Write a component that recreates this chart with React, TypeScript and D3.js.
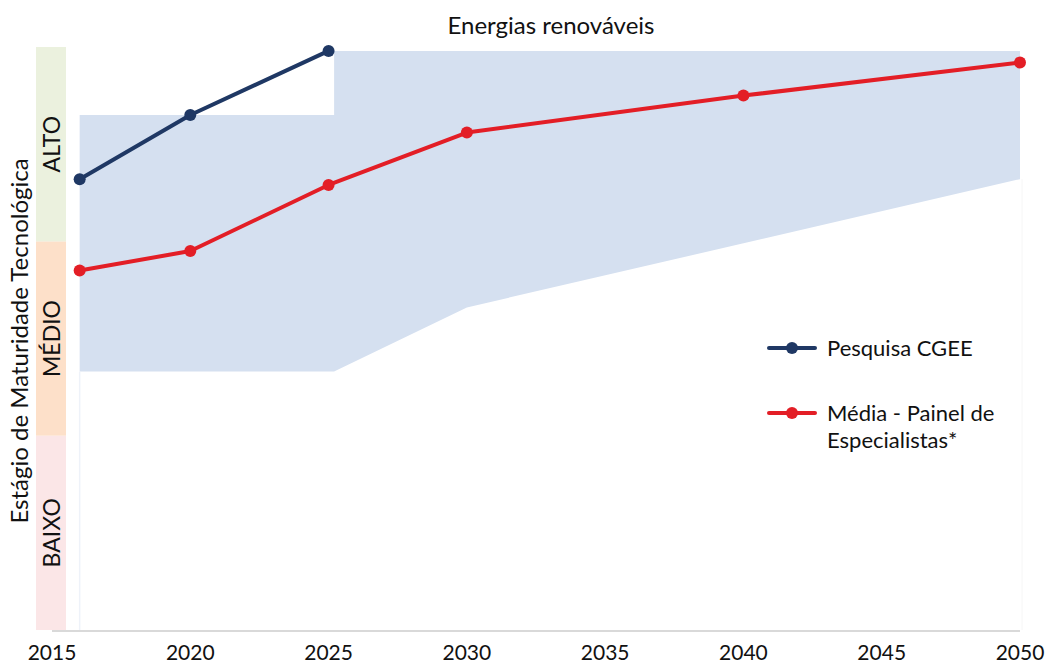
import React from 'react';
import * as d3 from 'd3';

// anos do eixo X
const years = [2015, 2020, 2025, 2030, 2035, 2040, 2045, 2050];

// níveis de maturidade (0 a 3)
const levels = ['BAIXO', 'MÉDIO', 'ALTO'];
const levelColors = ['#fbe6e7', '#fde0c9', '#ebf1de'];

// Pesquisa CGEE
const cgeeYears = [2016, 2020, 2025];
const cgeeValues = [2.32, 2.65, 2.98];

// Média - Painel de Especialistas
const panelYears = [2016, 2020, 2025, 2030, 2040, 2050];
const panelValues = [1.85, 1.95, 2.29, 2.56, 2.75, 2.92];

// faixa do painel (mín / máx)
const bandYears = [2016, 2025.2, 2025.2, 2030, 2050];
const bandMax = [2.65, 2.65, 2.98, 2.98, 2.98];
const bandMin = [1.33, 1.33, 1.33, 1.66, 2.32];

const font = 'Lato, "Open Sans", sans-serif';

const App = () => {
  const width = 1048;
  const height = 664;

  const x = d3.scaleLinear().domain([2015, 2050]).range([52, 1020]);
  const y = d3.scaleLinear().domain([0, 3]).range([630, 47]);

  const area = d3
    .area<number>()
    .x((_, i) => x(bandYears[i]))
    .y0((_, i) => y(bandMin[i]))
    .y1((_, i) => y(bandMax[i]));

  const line = d3
    .line<[number, number]>()
    .x(d => x(d[0]))
    .y(d => y(d[1]));

  const cgee = cgeeYears.map((yr, i) => [yr, cgeeValues[i]] as [number, number]);
  const panel = panelYears.map((yr, i) => [yr, panelValues[i]] as [number, number]);

  const series = [
    { name: ['Pesquisa CGEE'], data: cgee, color: '#1f3864', ly: 348 },
    { name: ['Média - Painel de', 'Especialistas*'], data: panel, color: '#e31e26', ly: 413 },
  ];

  return (
    <svg width={width} height={height} style={{ position: 'absolute', left: 0, top: 0 }}>
      <rect width={width} height={height} fill="#fff" />

      {/* faixa */}
      <path d={area(bandYears) ?? ''} fill="#d5e0f0" />

      {/* linhas finas do plot */}
      <line x1={x(2016)} x2={x(2016)} y1={y(bandMin[0])} y2={y(0)} stroke="#eef2f9" strokeWidth={1.5} />
      <line x1={x(2050) + 2} x2={x(2050) + 2} y1={y(bandMin[4])} y2={y(0)} stroke="#f6f6f6" strokeWidth={1} />

      {/* níveis */}
      {levels.map((l, i) => (
        <g key={l}>
          <rect x={36} width={30} y={y(i + 1)} height={y(i) - y(i + 1)} fill={levelColors[i]} />
          <text
            transform={`translate(60,${(y(i) + y(i + 1)) / 2}) rotate(-90)`}
            textAnchor="middle"
            fontFamily={font}
            fontSize={23}
            fill="#111"
          >
            {l}
          </text>
        </g>
      ))}

      {/* eixo X */}
      <line x1={52} x2={x(2050)} y1={y(0) + 1} y2={y(0) + 1} stroke="#d9d9d9" strokeWidth={2} />
      {years.map(yr => (
        <text key={yr} x={x(yr)} y={660} textAnchor="middle" fontFamily={font} fontSize={21} fill="#111">
          {yr}
        </text>
      ))}

      {/* título do eixo Y */}
      <text
        transform={`translate(28,${341}) rotate(-90)`}
        textAnchor="middle"
        fontFamily={font}
        fontSize={24}
        fill="#111"
      >
        Estágio de Maturidade Tecnológica
      </text>

      {/* título */}
      <text x={551} y={34} textAnchor="middle" fontFamily={font} fontSize={24} fill="#111">
        Energias renováveis
      </text>

      {/* séries */}
      {series.map(s => (
        <g key={s.name[0]}>
          <path d={line(s.data) ?? ''} fill="none" stroke={s.color} strokeWidth={4} strokeLinejoin="round" />
          {s.data.map(d => (
            <circle key={d[0]} cx={x(d[0])} cy={y(d[1])} r={6} fill={s.color} />
          ))}
        </g>
      ))}

      {/* legenda */}
      {series.map(s => (
        <g key={'lg' + s.name[0]}>
          <line x1={769} x2={815} y1={s.ly} y2={s.ly} stroke={s.color} strokeWidth={4} strokeLinecap="round" />
          <circle cx={792} cy={s.ly} r={6} fill={s.color} />
          {s.name.map((t, j) => (
            <text key={t} x={827} y={s.ly + 8 + j * 27} fontFamily={font} fontSize={22} fill="#111">
              {t}
            </text>
          ))}
        </g>
      ))}
    </svg>
  );
};

export default App;
